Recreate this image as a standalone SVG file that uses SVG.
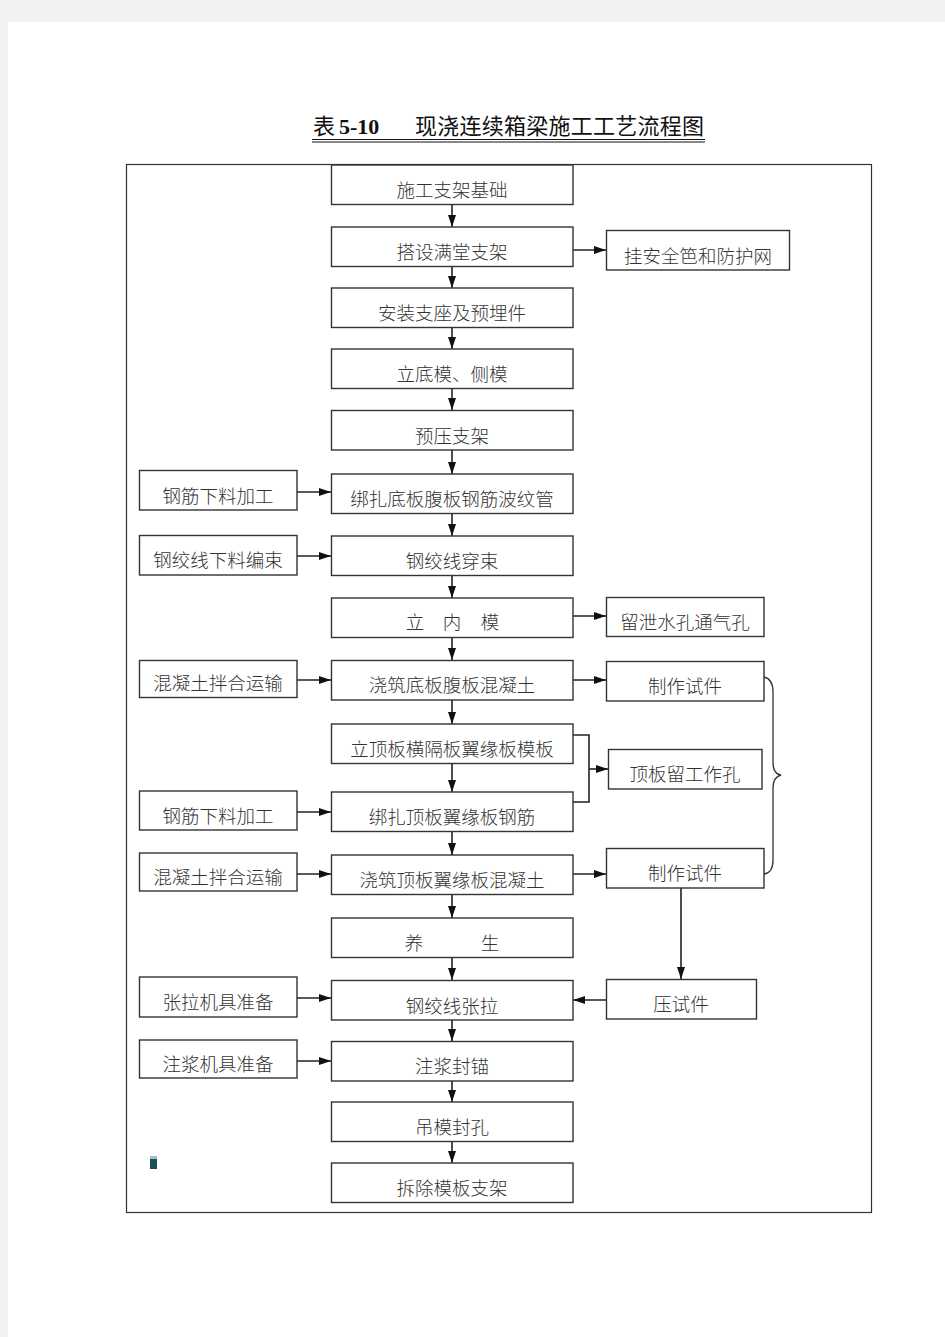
<svg xmlns="http://www.w3.org/2000/svg" width="945" height="1337" viewBox="0 0 945 1337">
<style>
.bx{fill:#fff;stroke:#333;stroke-width:1.4}
.t{font-family:"Noto Sans CJK SC","Noto Sans CJK JP",sans-serif;font-size:18.5px;fill:#333;text-anchor:middle;font-weight:300}
.ln{fill:none;stroke:#222;stroke-width:1.6}
</style>
<defs>
<marker id="ah" viewBox="0 0 12 8" refX="12" refY="4" markerWidth="12" markerHeight="8" markerUnits="userSpaceOnUse" orient="auto">
<path d="M0,0 L12,4 L0,8 Z" fill="#111"/>
</marker>
</defs>
<rect x="0" y="0" width="945" height="1337" fill="#f2f2f2"/>
<rect x="8" y="22" width="937" height="1315" fill="#fff"/>
<g id="title">
<text x="313" y="134" font-family="'Liberation Serif','Noto Sans CJK SC',serif" font-size="22" fill="#111"><tspan font-family="'Noto Sans CJK SC',serif">表</tspan><tspan dx="4" font-weight="bold">5-10</tspan></text>
<text x="415" y="134" font-family="'Noto Sans CJK SC',sans-serif" font-size="22" fill="#111" textLength="289">现浇连续箱梁施工工艺流程图</text>
<line x1="312" y1="139.5" x2="705" y2="139.5" stroke="#111" stroke-width="1.2"/>
<line x1="312" y1="142" x2="705" y2="142" stroke="#111" stroke-width="1"/>
</g>
<rect id="frame" x="126.5" y="164.5" width="745" height="1048" fill="none" stroke="#333" stroke-width="1.2"/>
<g id="connectors">
<path class="ln" marker-end="url(#ah)" d="M452,204 V227"/>
<path class="ln" marker-end="url(#ah)" d="M452,266 V288"/>
<path class="ln" marker-end="url(#ah)" d="M452,327 V349"/>
<path class="ln" marker-end="url(#ah)" d="M452,388 V410"/>
<path class="ln" marker-end="url(#ah)" d="M452,450 V474"/>
<path class="ln" marker-end="url(#ah)" d="M452,513 V536"/>
<path class="ln" marker-end="url(#ah)" d="M452,575 V598"/>
<path class="ln" marker-end="url(#ah)" d="M452,637 V660"/>
<path class="ln" marker-end="url(#ah)" d="M452,700 V724"/>
<path class="ln" marker-end="url(#ah)" d="M452,763 V792"/>
<path class="ln" marker-end="url(#ah)" d="M452,831 V855"/>
<path class="ln" marker-end="url(#ah)" d="M452,894 V918"/>
<path class="ln" marker-end="url(#ah)" d="M452,957 V980"/>
<path class="ln" marker-end="url(#ah)" d="M452,1020 V1041"/>
<path class="ln" marker-end="url(#ah)" d="M452,1081 V1102"/>
<path class="ln" marker-end="url(#ah)" d="M452,1141 V1163"/>
<path class="ln" marker-end="url(#ah)" d="M573,250 H606"/>
<path class="ln" marker-end="url(#ah)" d="M573,616 H606"/>
<path class="ln" marker-end="url(#ah)" d="M573,680 H606"/>
<path class="ln" marker-end="url(#ah)" d="M573,874 H606"/>
<path class="ln" d="M573,735 H589 V802 H573"/>
<path class="ln" marker-end="url(#ah)" d="M589,769 H608"/>
<path class="ln" marker-end="url(#ah)" d="M681,888 V979"/>
<path class="ln" marker-end="url(#ah)" d="M606,1000 H573"/>
<path class="ln" marker-end="url(#ah)" d="M297,492 H331"/>
<path class="ln" marker-end="url(#ah)" d="M297,556 H331"/>
<path class="ln" marker-end="url(#ah)" d="M297,680 H331"/>
<path class="ln" marker-end="url(#ah)" d="M297,812 H331"/>
<path class="ln" marker-end="url(#ah)" d="M297,874 H331"/>
<path class="ln" marker-end="url(#ah)" d="M297,998 H331"/>
<path class="ln" marker-end="url(#ah)" d="M297,1061 H331"/>
<path d="M764,677 Q773,679 773,692 V762 Q773,774 781,775 Q773,777 773,788 V860 Q773,873 764,874" fill="none" stroke="#333" stroke-width="1.3"/>
</g>
<g id="n1"><rect class="bx" x="331.5" y="165" width="241.5" height="39.5"/><text class="t" x="452" y="197">施工支架基础</text></g>
<g id="n2"><rect class="bx" x="331.5" y="227" width="241.5" height="39.5"/><text class="t" x="452" y="259">搭设满堂支架</text></g>
<g id="n3"><rect class="bx" x="331.5" y="288" width="241.5" height="39.5"/><text class="t" x="452" y="320">安装支座及预埋件</text></g>
<g id="n4"><rect class="bx" x="331.5" y="349" width="241.5" height="39.5"/><text class="t" x="452" y="381">立底模、侧模</text></g>
<g id="n5"><rect class="bx" x="331.5" y="410.5" width="241.5" height="39.5"/><text class="t" x="452" y="443">预压支架</text></g>
<g id="n6"><rect class="bx" x="331.5" y="474" width="241.5" height="39.5"/><text class="t" x="452" y="506">绑扎底板腹板钢筋波纹管</text></g>
<g id="n7"><rect class="bx" x="331.5" y="536" width="241.5" height="39.5"/><text class="t" x="452" y="568">钢绞线穿束</text></g>
<g id="n8"><rect class="bx" x="331.5" y="598" width="241.5" height="39.5"/><text class="t" x="415" y="629">立</text><text class="t" x="452" y="629">内</text><text class="t" x="490" y="629">模</text></g>
<g id="n9"><rect class="bx" x="331.5" y="660.5" width="241.5" height="39.5"/><text class="t" x="452" y="692">浇筑底板腹板混凝土</text></g>
<g id="n10"><rect class="bx" x="331.5" y="724" width="241.5" height="39.5"/><text class="t" x="452" y="756">立顶板横隔板翼缘板模板</text></g>
<g id="n11"><rect class="bx" x="331.5" y="792" width="241.5" height="39.5"/><text class="t" x="452" y="824">绑扎顶板翼缘板钢筋</text></g>
<g id="n12"><rect class="bx" x="331.5" y="855" width="241.5" height="39.5"/><text class="t" x="452" y="887">浇筑顶板翼缘板混凝土</text></g>
<g id="n13"><rect class="bx" x="331.5" y="918" width="241.5" height="39.5"/><text class="t" x="414" y="950">养</text><text class="t" x="490" y="950">生</text></g>
<g id="n14"><rect class="bx" x="331.5" y="980.5" width="241.5" height="39.5"/><text class="t" x="452" y="1013">钢绞线张拉</text></g>
<g id="n15"><rect class="bx" x="331.5" y="1041.5" width="241.5" height="39.5"/><text class="t" x="452" y="1073">注浆封锚</text></g>
<g id="n16"><rect class="bx" x="331.5" y="1102" width="241.5" height="39.5"/><text class="t" x="452" y="1134">吊模封孔</text></g>
<g id="n17"><rect class="bx" x="331.5" y="1163" width="241.5" height="39.5"/><text class="t" x="452" y="1195">拆除模板支架</text></g>
<g id="r1"><rect class="bx" x="606.5" y="230.5" width="183" height="39.5"/><text class="t" x="698" y="263">挂安全笆和防护网</text></g>
<g id="r2"><rect class="bx" x="606.5" y="597.5" width="157.5" height="39"/><text class="t" x="685" y="629">留泄水孔通气孔</text></g>
<g id="r3"><rect class="bx" x="606.5" y="661.5" width="157.5" height="39.5"/><text class="t" x="685" y="693">制作试件</text></g>
<g id="r4"><rect class="bx" x="608.5" y="749.5" width="153.5" height="39.5"/><text class="t" x="685" y="781">顶板留工作孔</text></g>
<g id="r5"><rect class="bx" x="606.5" y="848.5" width="157.5" height="39.5"/><text class="t" x="685" y="880">制作试件</text></g>
<g id="r6"><rect class="bx" x="606.5" y="979.5" width="150" height="39.5"/><text class="t" x="681" y="1011">压试件</text></g>
<g id="l1"><rect class="bx" x="139.5" y="470.5" width="157.5" height="39.5"/><text class="t" x="218" y="503">钢筋下料加工</text></g>
<g id="l2"><rect class="bx" x="139.5" y="535.5" width="157.5" height="39.5"/><text class="t" x="218" y="567">钢绞线下料编束</text></g>
<g id="l3"><rect class="bx" x="139.5" y="660.5" width="157.5" height="37"/><text class="t" x="218" y="690">混凝土拌合运输</text></g>
<g id="l4"><rect class="bx" x="139.5" y="791" width="157.5" height="39"/><text class="t" x="218" y="823">钢筋下料加工</text></g>
<g id="l5"><rect class="bx" x="139.5" y="853" width="157.5" height="38"/><text class="t" x="218" y="884">混凝土拌合运输</text></g>
<g id="l6"><rect class="bx" x="139.5" y="977" width="157.5" height="40"/><text class="t" x="218" y="1009">张拉机具准备</text></g>
<g id="l7"><rect class="bx" x="139.5" y="1040" width="157.5" height="38"/><text class="t" x="218" y="1071">注浆机具准备</text></g>
<rect x="150" y="1156" width="7" height="13" fill="#1d4e55"/>
<rect x="150" y="1156" width="7" height="3" fill="#9fc3c8"/>
</svg>
